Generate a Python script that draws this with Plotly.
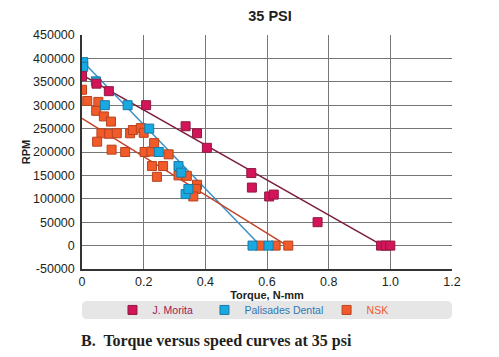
import plotly.graph_objects as go

# ---- data ----
morita_torque = [0.0, 0.047, 0.087, 0.208, 0.336, 0.373, 0.405, 0.549, 0.551, 0.607, 0.622, 0.764, 0.97, 0.985, 1.0]
morita_rpm = [362000, 346000, 330000, 300000, 255000, 240000, 209000, 155000, 124000, 105000, 109000, 50000, 0, 0, 0]

palisades_torque = [0.004, 0.004, 0.045, 0.074, 0.148, 0.218, 0.249, 0.313, 0.322, 0.336, 0.345, 0.553, 0.605]
palisades_rpm = [392000, 382000, 351000, 300000, 300000, 250000, 200000, 170000, 156000, 110000, 121000, 0, 0]

nsk_torque = [0.0, 0.017, 0.053, 0.046, 0.071, 0.094, 0.063, 0.049, 0.088, 0.113, 0.096, 0.140,
              0.156, 0.165, 0.191, 0.200, 0.203, 0.225, 0.234, 0.227, 0.263, 0.281, 0.243, 0.313,
              0.340, 0.373, 0.370, 0.361, 0.577, 0.628, 0.669]
nsk_rpm = [333000, 309000, 307000, 288000, 276000, 265000, 240000, 222000, 239000, 240000, 205000, 200000,
           240000, 247000, 251000, 241000, 200000, 201000, 219000, 170000, 170000, 195000, 147000, 150000,
           149000, 130000, 121000, 105000, 0, 0, 0]

morita_fit_torque = [0.0, 0.975]
morita_fit_rpm = [365000, 0]
palisades_fit_torque = [0.0, 0.578]
palisades_fit_rpm = [395000, 0]
nsk_fit_torque = [0.0, 0.665]
nsk_fit_rpm = [272000, 0]

x_ticks = [0, 0.2, 0.4, 0.6, 0.8, 1.0, 1.2]
x_tick_labels = ["0", "0.2", "0.4", "0.6", "0.8", "1.0", "1.2"]
y_ticks = [-50000, 0, 50000, 100000, 150000, 200000, 250000, 300000, 350000, 400000, 450000]
y_tick_labels = ["-50000", "0", "50000", "100000", "150000", "200000", "250000",
                 "300000", "350000", "400000", "450000"]

FONT = "Liberation Sans Narrow, Arial Narrow, Liberation Sans, Arial, sans-serif"
TXT = "#231F20"

# the page adds an 8px body margin, so the figure is 8px smaller than the window
W, H = 491, 349

fig = go.Figure()

# trend lines
fig.add_trace(go.Scatter(x=morita_fit_torque, y=morita_fit_rpm, mode="lines",
                         line=dict(color="#7B1C3C", width=1.5), showlegend=False, hoverinfo="skip"))
fig.add_trace(go.Scatter(x=palisades_fit_torque, y=palisades_fit_rpm, mode="lines",
                         line=dict(color="#3A8EC6", width=1.5), showlegend=False, hoverinfo="skip"))
fig.add_trace(go.Scatter(x=nsk_fit_torque, y=nsk_fit_rpm, mode="lines",
                         line=dict(color="#C2452B", width=1.5), showlegend=False, hoverinfo="skip"))

# markers
fig.add_trace(go.Scatter(x=nsk_torque, y=nsk_rpm, mode="markers", name="NSK", legend="legend3",
                         marker=dict(symbol="square", size=9, color="#F15A29",
                                     line=dict(color="#B8431E", width=1))))
fig.add_trace(go.Scatter(x=palisades_torque, y=palisades_rpm, mode="markers", name="Palisades Dental",
                         legend="legend2",
                         marker=dict(symbol="square", size=9, color="#19A9E1",
                                     line=dict(color="#1B79A6", width=1))))
fig.add_trace(go.Scatter(x=morita_torque, y=morita_rpm, mode="markers", name="J. Morita", legend="legend",
                         marker=dict(symbol="square", size=9, color="#D4145A",
                                     line=dict(color="#8E1B3F", width=1))))

# legend background (rounded)
x0, x1, y0, y1 = 0.0, 1.0, -0.2137, -0.1368
rx, ry = 0.0135, 0.0214
path = (f"M {x0+rx},{y0} L {x1-rx},{y0} Q {x1},{y0} {x1},{y0+ry} L {x1},{y1-ry} Q {x1},{y1} {x1-rx},{y1} "
        f"L {x0+rx},{y1} Q {x0},{y1} {x0},{y1-ry} L {x0},{y0+ry} Q {x0},{y0} {x0+rx},{y0} Z")
fig.add_shape(type="path", path=path, xref="paper", yref="paper", fillcolor="#E6E6E6",
              line=dict(width=0), layer="below")

leg_common = dict(orientation="h", yanchor="middle", y=-0.175, xanchor="left",
                  bgcolor="rgba(0,0,0,0)", borderwidth=0, itemclick=False)

fig.update_layout(
    width=W, height=H,
    margin=dict(l=74, r=47, t=27, b=88, autoexpand=False),
    paper_bgcolor="white", plot_bgcolor="white",
    font=dict(family=FONT, color=TXT, size=12.5),
    title=dict(text="<b>35 PSI</b>", x=262 / W, xanchor="center", y=1 - 8 / H, yanchor="middle",
               yref="container", font=dict(family=FONT, size=14.5, color=TXT)),
    xaxis=dict(range=[0, 1.2], tickvals=x_ticks, ticktext=x_tick_labels, showgrid=True,
               gridcolor="#767676", gridwidth=1, zeroline=False, showline=True, linecolor="#333333",
               linewidth=1.5, ticks="", ticklabelstandoff=0, automargin=False,
               title=dict(text="<b>Torque, N-mm</b>", font=dict(family=FONT, size=11, color=TXT), standoff=1),
               tickfont=dict(family=FONT, size=12.5, color=TXT), fixedrange=True),
    yaxis=dict(range=[-50000, 450000], tickvals=y_ticks, ticktext=y_tick_labels, showgrid=True,
               gridcolor="#767676", gridwidth=1, zeroline=False, showline=True, linecolor="#333333",
               linewidth=1.5, ticks="", ticklabelstandoff=3, automargin=False,
               title=dict(text="<b>RPM</b>", font=dict(family=FONT, size=11, color=TXT), standoff=0),
               tickfont=dict(family=FONT, size=12.5, color=TXT), fixedrange=True),
    legend=dict(x=0.0824, font=dict(family=FONT, size=10.5, color="#A1194F"), **leg_common),
    legend2=dict(x=0.331, font=dict(family=FONT, size=10.5, color="#2E77B5"), **leg_common),
    legend3=dict(x=0.661, font=dict(family=FONT, size=10.5, color="#EE5A2A"), **leg_common),
    annotations=[dict(text="<b>B.&nbsp; Torque versus speed curves at 35 psi</b>", xref="paper", yref="paper",
                      x=-0.0068, y=-0.3077, xanchor="left", yanchor="middle", showarrow=False,
                      font=dict(family="Liberation Serif, DejaVu Serif, serif", size=16, color=TXT))],
)

fig.write_html("out.html")
